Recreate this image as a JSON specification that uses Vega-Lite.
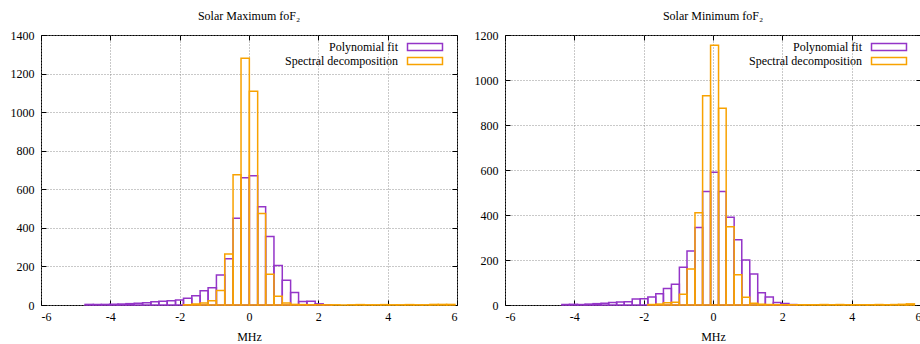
{
  "$schema": "https://vega.github.io/schema/vega-lite/v6.json",
  "padding": {"left": 5, "top": 9, "right": 0, "bottom": 0},
  "spacing": 11,
  "datasets": {
    "max": [
      {"series": "Polynomial fit", "x0": -4.73, "x1": -4.49, "count": 3},
      {"series": "Polynomial fit", "x0": -4.49, "x1": -4.26, "count": 2},
      {"series": "Polynomial fit", "x0": -4.26, "x1": -4.02, "count": 3},
      {"series": "Polynomial fit", "x0": -4.02, "x1": -3.78, "count": 4},
      {"series": "Polynomial fit", "x0": -3.78, "x1": -3.55, "count": 5},
      {"series": "Polynomial fit", "x0": -3.55, "x1": -3.31, "count": 7},
      {"series": "Polynomial fit", "x0": -3.31, "x1": -3.07, "count": 9},
      {"series": "Polynomial fit", "x0": -3.07, "x1": -2.83, "count": 12},
      {"series": "Polynomial fit", "x0": -2.83, "x1": -2.6, "count": 17},
      {"series": "Polynomial fit", "x0": -2.6, "x1": -2.36, "count": 19},
      {"series": "Polynomial fit", "x0": -2.36, "x1": -2.12, "count": 22},
      {"series": "Polynomial fit", "x0": -2.12, "x1": -1.89, "count": 26},
      {"series": "Polynomial fit", "x0": -1.89, "x1": -1.65, "count": 35},
      {"series": "Polynomial fit", "x0": -1.65, "x1": -1.41, "count": 48},
      {"series": "Polynomial fit", "x0": -1.41, "x1": -1.18, "count": 74},
      {"series": "Polynomial fit", "x0": -1.18, "x1": -0.94, "count": 90},
      {"series": "Polynomial fit", "x0": -0.94, "x1": -0.7, "count": 155},
      {"series": "Polynomial fit", "x0": -0.7, "x1": -0.46, "count": 240},
      {"series": "Polynomial fit", "x0": -0.46, "x1": -0.23, "count": 450},
      {"series": "Polynomial fit", "x0": -0.23, "x1": 0.01, "count": 660},
      {"series": "Polynomial fit", "x0": 0.01, "x1": 0.25, "count": 670},
      {"series": "Polynomial fit", "x0": 0.25, "x1": 0.48, "count": 510},
      {"series": "Polynomial fit", "x0": 0.48, "x1": 0.72, "count": 355},
      {"series": "Polynomial fit", "x0": 0.72, "x1": 0.96, "count": 205},
      {"series": "Polynomial fit", "x0": 0.96, "x1": 1.2, "count": 128},
      {"series": "Polynomial fit", "x0": 1.2, "x1": 1.43, "count": 65},
      {"series": "Polynomial fit", "x0": 1.43, "x1": 1.67, "count": 18},
      {"series": "Polynomial fit", "x0": 1.67, "x1": 1.91, "count": 20},
      {"series": "Polynomial fit", "x0": 1.91, "x1": 2.14, "count": 6},
      {"series": "Polynomial fit", "x0": 2.14, "x1": 2.38, "count": 1},
      {"series": "Spectral decomposition", "x0": -1.89, "x1": -1.65, "count": 1},
      {"series": "Spectral decomposition", "x0": -1.65, "x1": -1.41, "count": 5},
      {"series": "Spectral decomposition", "x0": -1.41, "x1": -1.18, "count": 10},
      {"series": "Spectral decomposition", "x0": -1.18, "x1": -0.94, "count": 22},
      {"series": "Spectral decomposition", "x0": -0.94, "x1": -0.7, "count": 75},
      {"series": "Spectral decomposition", "x0": -0.7, "x1": -0.46, "count": 265},
      {"series": "Spectral decomposition", "x0": -0.46, "x1": -0.23, "count": 675},
      {"series": "Spectral decomposition", "x0": -0.23, "x1": 0.01, "count": 1280},
      {"series": "Spectral decomposition", "x0": 0.01, "x1": 0.25, "count": 1108},
      {"series": "Spectral decomposition", "x0": 0.25, "x1": 0.48, "count": 475},
      {"series": "Spectral decomposition", "x0": 0.48, "x1": 0.72, "count": 160},
      {"series": "Spectral decomposition", "x0": 0.72, "x1": 0.96, "count": 45},
      {"series": "Spectral decomposition", "x0": 0.96, "x1": 1.2, "count": 10},
      {"series": "Spectral decomposition", "x0": 1.2, "x1": 1.43, "count": 3},
      {"series": "Spectral decomposition", "x0": 1.43, "x1": 1.67, "count": 2},
      {"series": "Spectral decomposition", "x0": 1.67, "x1": 1.91, "count": 1},
      {"series": "Spectral decomposition", "x0": 1.91, "x1": 2.14, "count": 1},
      {"series": "Spectral decomposition", "x0": 2.14, "x1": 2.38, "count": 1},
      {"series": "Spectral decomposition", "x0": 2.38, "x1": 2.62, "count": 1},
      {"series": "Spectral decomposition", "x0": 2.62, "x1": 2.85, "count": 0},
      {"series": "Spectral decomposition", "x0": 2.85, "x1": 3.09, "count": 1},
      {"series": "Spectral decomposition", "x0": 3.09, "x1": 3.33, "count": 2},
      {"series": "Spectral decomposition", "x0": 3.33, "x1": 3.56, "count": 1},
      {"series": "Spectral decomposition", "x0": 3.56, "x1": 3.8, "count": 1},
      {"series": "Spectral decomposition", "x0": 3.8, "x1": 4.04, "count": 2},
      {"series": "Spectral decomposition", "x0": 4.04, "x1": 4.27, "count": 1},
      {"series": "Spectral decomposition", "x0": 4.27, "x1": 4.51, "count": 1},
      {"series": "Spectral decomposition", "x0": 4.51, "x1": 4.75, "count": 2},
      {"series": "Spectral decomposition", "x0": 4.75, "x1": 4.99, "count": 1},
      {"series": "Spectral decomposition", "x0": 4.99, "x1": 5.22, "count": 1},
      {"series": "Spectral decomposition", "x0": 5.22, "x1": 5.46, "count": 3},
      {"series": "Spectral decomposition", "x0": 5.46, "x1": 5.7, "count": 3},
      {"series": "Spectral decomposition", "x0": 5.7, "x1": 5.94, "count": 3}
    ],
    "min": [
      {"series": "Polynomial fit", "x0": -4.36, "x1": -4.14, "count": 2},
      {"series": "Polynomial fit", "x0": -4.14, "x1": -3.91, "count": 3},
      {"series": "Polynomial fit", "x0": -3.91, "x1": -3.69, "count": 2},
      {"series": "Polynomial fit", "x0": -3.69, "x1": -3.46, "count": 4},
      {"series": "Polynomial fit", "x0": -3.46, "x1": -3.23, "count": 6},
      {"series": "Polynomial fit", "x0": -3.23, "x1": -3.01, "count": 8},
      {"series": "Polynomial fit", "x0": -3.01, "x1": -2.78, "count": 11},
      {"series": "Polynomial fit", "x0": -2.78, "x1": -2.56, "count": 13},
      {"series": "Polynomial fit", "x0": -2.56, "x1": -2.33, "count": 15},
      {"series": "Polynomial fit", "x0": -2.33, "x1": -2.1, "count": 27},
      {"series": "Polynomial fit", "x0": -2.1, "x1": -1.88, "count": 28},
      {"series": "Polynomial fit", "x0": -1.88, "x1": -1.65, "count": 36},
      {"series": "Polynomial fit", "x0": -1.65, "x1": -1.43, "count": 50},
      {"series": "Polynomial fit", "x0": -1.43, "x1": -1.2, "count": 73},
      {"series": "Polynomial fit", "x0": -1.2, "x1": -0.97, "count": 92},
      {"series": "Polynomial fit", "x0": -0.97, "x1": -0.75, "count": 168},
      {"series": "Polynomial fit", "x0": -0.75, "x1": -0.52, "count": 240},
      {"series": "Polynomial fit", "x0": -0.52, "x1": -0.3, "count": 345},
      {"series": "Polynomial fit", "x0": -0.3, "x1": -0.07, "count": 505},
      {"series": "Polynomial fit", "x0": -0.07, "x1": 0.16, "count": 590},
      {"series": "Polynomial fit", "x0": 0.16, "x1": 0.38, "count": 505},
      {"series": "Polynomial fit", "x0": 0.38, "x1": 0.61, "count": 390},
      {"series": "Polynomial fit", "x0": 0.61, "x1": 0.83, "count": 290},
      {"series": "Polynomial fit", "x0": 0.83, "x1": 1.06, "count": 200},
      {"series": "Polynomial fit", "x0": 1.06, "x1": 1.29, "count": 138},
      {"series": "Polynomial fit", "x0": 1.29, "x1": 1.51, "count": 55},
      {"series": "Polynomial fit", "x0": 1.51, "x1": 1.74, "count": 36},
      {"series": "Polynomial fit", "x0": 1.74, "x1": 1.96, "count": 11},
      {"series": "Polynomial fit", "x0": 1.96, "x1": 2.19, "count": 7},
      {"series": "Polynomial fit", "x0": 2.19, "x1": 2.42, "count": 2},
      {"series": "Spectral decomposition", "x0": -1.88, "x1": -1.65, "count": 2},
      {"series": "Spectral decomposition", "x0": -1.65, "x1": -1.43, "count": 4},
      {"series": "Spectral decomposition", "x0": -1.43, "x1": -1.2, "count": 10},
      {"series": "Spectral decomposition", "x0": -1.2, "x1": -0.97, "count": 12},
      {"series": "Spectral decomposition", "x0": -0.97, "x1": -0.75, "count": 48},
      {"series": "Spectral decomposition", "x0": -0.75, "x1": -0.52, "count": 160},
      {"series": "Spectral decomposition", "x0": -0.52, "x1": -0.3, "count": 410},
      {"series": "Spectral decomposition", "x0": -0.3, "x1": -0.07, "count": 930},
      {"series": "Spectral decomposition", "x0": -0.07, "x1": 0.16, "count": 1155},
      {"series": "Spectral decomposition", "x0": 0.16, "x1": 0.38, "count": 875},
      {"series": "Spectral decomposition", "x0": 0.38, "x1": 0.61, "count": 348},
      {"series": "Spectral decomposition", "x0": 0.61, "x1": 0.83, "count": 135},
      {"series": "Spectral decomposition", "x0": 0.83, "x1": 1.06, "count": 35},
      {"series": "Spectral decomposition", "x0": 1.06, "x1": 1.29, "count": 8},
      {"series": "Spectral decomposition", "x0": 1.29, "x1": 1.51, "count": 3},
      {"series": "Spectral decomposition", "x0": 1.51, "x1": 1.74, "count": 2},
      {"series": "Spectral decomposition", "x0": 1.74, "x1": 1.96, "count": 1},
      {"series": "Spectral decomposition", "x0": 1.96, "x1": 2.19, "count": 1},
      {"series": "Spectral decomposition", "x0": 2.19, "x1": 2.42, "count": 1},
      {"series": "Spectral decomposition", "x0": 2.42, "x1": 2.64, "count": 1},
      {"series": "Spectral decomposition", "x0": 2.64, "x1": 2.87, "count": 1},
      {"series": "Spectral decomposition", "x0": 2.87, "x1": 3.09, "count": 1},
      {"series": "Spectral decomposition", "x0": 3.09, "x1": 3.32, "count": 2},
      {"series": "Spectral decomposition", "x0": 3.32, "x1": 3.55, "count": 1},
      {"series": "Spectral decomposition", "x0": 3.55, "x1": 3.77, "count": 2},
      {"series": "Spectral decomposition", "x0": 3.77, "x1": 4.0, "count": 1},
      {"series": "Spectral decomposition", "x0": 4.0, "x1": 4.22, "count": 1},
      {"series": "Spectral decomposition", "x0": 4.22, "x1": 4.45, "count": 1},
      {"series": "Spectral decomposition", "x0": 4.45, "x1": 4.68, "count": 1},
      {"series": "Spectral decomposition", "x0": 4.68, "x1": 4.9, "count": 2},
      {"series": "Spectral decomposition", "x0": 4.9, "x1": 5.13, "count": 1},
      {"series": "Spectral decomposition", "x0": 5.13, "x1": 5.35, "count": 2},
      {"series": "Spectral decomposition", "x0": 5.35, "x1": 5.58, "count": 3},
      {"series": "Spectral decomposition", "x0": 5.58, "x1": 5.81, "count": 5}
    ]
  },
  "config": {
    "font": "Liberation Serif",
    "view": {"stroke": "black", "strokeWidth": 1},
    "axis": {
      "labelFont": "Liberation Serif", "labelFontSize": 12, "labelColor": "black",
      "titleFont": "Liberation Serif", "titleFontSize": 12, "titleFontWeight": "normal", "titleColor": "black",
      "domain": false, "tickColor": "black", "tickSize": -5, "labelPadding": 12,
      "gridDash": [1, 2], "gridColor": "#888888", "gridOpacity": 0.9
    },
    "title": {"font": "Liberation Serif", "fontSize": 12, "fontWeight": "normal", "offset": 6, "color": "black"},
    "legend": {
      "orient": "none", "legendX": 377, "legendY": 5, "padding": 0, "title": null,
      "symbolType": "M-3,-0.6H3V0.6H-3Z", "symbolSize": 136, "symbolStrokeWidth": 1.5,
      "labelAlign": "right", "labelOffset": -34, "labelFont": "Liberation Serif", "labelFontSize": 12, "labelColor": "black",
      "rowPadding": 0
    }
  },
  "hconcat": [
    {
      "title": "Solar Maximum foF₂",
      "width": 416, "height": 270,
      "data": {"name": "max"},
      "layer": [
        {
          "mark": {"type": "bar", "filled": false, "strokeWidth": 1.5},
          "encoding": {
            "x": {"field": "x0", "type": "quantitative", "scale": {"domain": [-6, 6], "nice": false, "zero": false},
                  "axis": {"values": [-6, -4, -2, 0, 2, 4, 6], "title": "MHz", "titlePadding": 9, "labelPadding": 11,
                           "labelFont": "Liberation Serif", "titleFont": "Liberation Serif",
                           "labelExpr": "datum.value < 0 ? '-' + abs(datum.value) : '' + datum.value"}},
            "x2": {"field": "x1"},
            "y": {"field": "count", "type": "quantitative", "stack": null, "scale": {"domain": [0, 1400], "nice": false},
                  "axis": {"values": [0, 200, 400, 600, 800, 1000, 1200, 1400], "format": "d", "title": null,
                           "labelFont": "Liberation Serif", "minExtent": 35, "maxExtent": 35}},
            "y2": {"datum": 0},
            "color": {"field": "series", "type": "nominal",
                      "scale": {"domain": ["Polynomial fit", "Spectral decomposition"], "range": ["#9435c8", "#f8a200"]}}
          }
        },
        {
          "mark": {"type": "point", "opacity": 0},
          "encoding": {
            "x": {"field": "x0", "type": "quantitative",
                  "axis": {"orient": "top", "values": [-6, -4, -2, 0, 2, 4, 6], "labels": false, "grid": false, "title": null, "minExtent": 0, "maxExtent": 0}},
            "y": {"field": "count", "type": "quantitative",
                  "axis": {"orient": "right", "values": [0, 200, 400, 600, 800, 1000, 1200, 1400], "labels": false, "grid": false, "title": null, "minExtent": 0, "maxExtent": 0}}
          }
        }
      ],
      "resolve": {"axis": {"x": "independent", "y": "independent"}}
    },
    {
      "title": "Solar Minimum foF₂",
      "width": 416, "height": 270,
      "data": {"name": "min"},
      "layer": [
        {
          "mark": {"type": "bar", "filled": false, "strokeWidth": 1.5},
          "encoding": {
            "x": {"field": "x0", "type": "quantitative", "scale": {"domain": [-6, 6], "nice": false, "zero": false},
                  "axis": {"values": [-6, -4, -2, 0, 2, 4, 6], "title": "MHz", "titlePadding": 9, "labelPadding": 11,
                           "labelFont": "Liberation Serif", "titleFont": "Liberation Serif",
                           "labelExpr": "datum.value < 0 ? '-' + abs(datum.value) : '' + datum.value"}},
            "x2": {"field": "x1"},
            "y": {"field": "count", "type": "quantitative", "stack": null, "scale": {"domain": [0, 1200], "nice": false},
                  "axis": {"values": [0, 200, 400, 600, 800, 1000, 1200], "format": "d", "title": null,
                           "labelFont": "Liberation Serif", "minExtent": 35, "maxExtent": 35}},
            "y2": {"datum": 0},
            "color": {"field": "series", "type": "nominal",
                      "scale": {"domain": ["Polynomial fit", "Spectral decomposition"], "range": ["#9435c8", "#f8a200"]}}
          }
        },
        {
          "mark": {"type": "point", "opacity": 0},
          "encoding": {
            "x": {"field": "x0", "type": "quantitative",
                  "axis": {"orient": "top", "values": [-6, -4, -2, 0, 2, 4, 6], "labels": false, "grid": false, "title": null, "minExtent": 0, "maxExtent": 0}},
            "y": {"field": "count", "type": "quantitative",
                  "axis": {"orient": "right", "values": [0, 200, 400, 600, 800, 1000, 1200], "labels": false, "grid": false, "title": null, "minExtent": 0, "maxExtent": 0}}
          }
        }
      ],
      "resolve": {"axis": {"x": "independent", "y": "independent"}}
    }
  ],
  "resolve": {"scale": {"color": "independent"}, "legend": {"color": "independent"}}
}
